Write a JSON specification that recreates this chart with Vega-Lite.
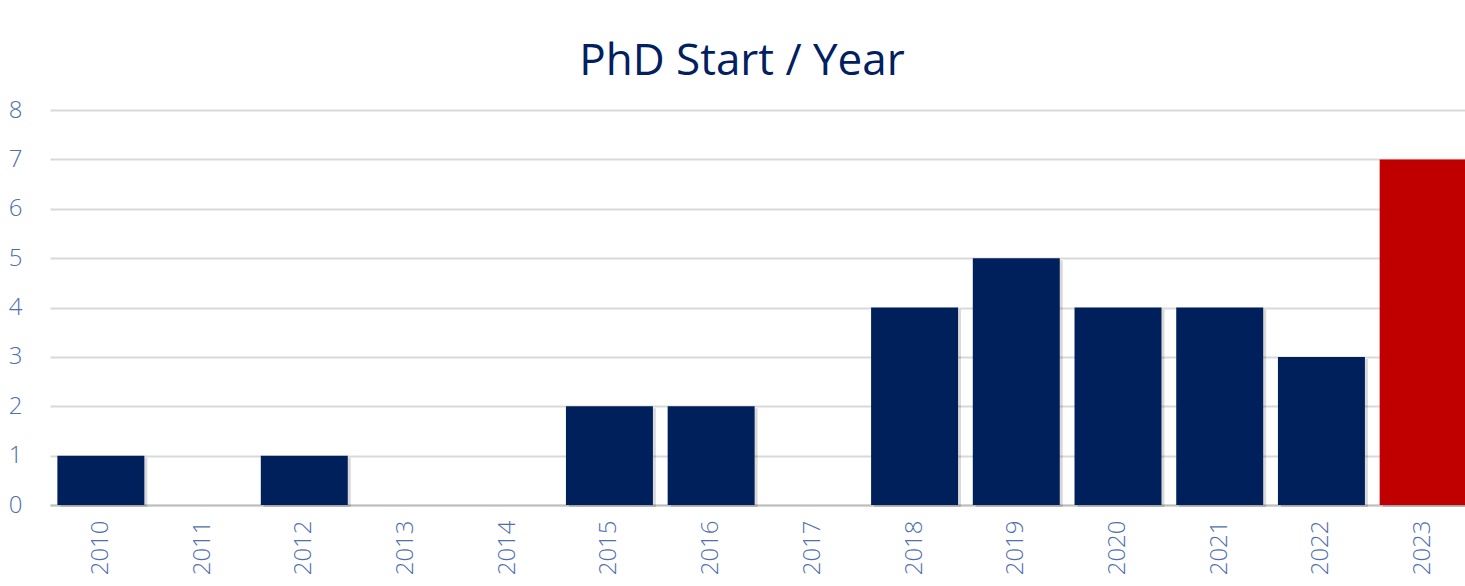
{
  "$schema": "https://vega.github.io/schema/vega-lite/v6.json",
  "autosize": "none",
  "padding": {"left": 50, "top": 110, "right": 0, "bottom": 81},
  "width": 1424,
  "height": 395,
  "background": "#ffffff",
  "title": {
    "text": "PhD Start / Year",
    "font": "Open Sans",
    "fontSize": 44,
    "fontWeight": "normal",
    "color": "#002060",
    "anchor": "middle",
    "frame": "group",
    "baseline": "alphabetic",
    "offset": -21,
    "dx": -20
  },
  "data": {
    "values": [
      {"year": "2010", "count": 1},
      {"year": "2011", "count": 0},
      {"year": "2012", "count": 1},
      {"year": "2013", "count": 0},
      {"year": "2014", "count": 0},
      {"year": "2015", "count": 2},
      {"year": "2016", "count": 2},
      {"year": "2017", "count": 0},
      {"year": "2018", "count": 4},
      {"year": "2019", "count": 5},
      {"year": "2020", "count": 4},
      {"year": "2021", "count": 4},
      {"year": "2022", "count": 3},
      {"year": "2023", "count": 7}
    ]
  },
  "encoding": {
    "x": {
      "field": "year",
      "type": "ordinal",
      "sort": null,
      "scale": {"paddingInner": 0.145, "paddingOuter": 0.0725},
      "axis": {
        "title": null,
        "labelAngle": -90,
        "labelAlign": "right",
        "labelBaseline": "middle",
        "labelFont": "Open Sans",
        "labelFontWeight": 300,
        "labelFontSize": 24,
        "labelColor": "#4f6fae",
        "labelPadding": 15,
        "ticks": false,
        "domain": true,
        "domainColor": "#bfbfbf",
        "domainWidth": 2
      }
    },
    "y": {
      "field": "count",
      "type": "quantitative",
      "scale": {"domain": [0, 8], "nice": false},
      "axis": {
        "title": null,
        "values": [0, 1, 2, 3, 4, 5, 6, 7, 8],
        "labelFont": "Open Sans",
        "labelFontWeight": 300,
        "labelFontSize": 24,
        "labelColor": "#4f6fae",
        "labelAlign": "center",
        "labelPadding": 35,
        "ticks": false,
        "domain": false,
        "grid": true,
        "gridColor": "#d9d9d9",
        "gridWidth": 2
      }
    }
  },
  "layer": [
    {
      "mark": {"type": "bar", "color": "#000000", "opacity": 0.15, "xOffset": 3, "yOffset": 2}
    },
    {
      "mark": {"type": "bar"},
      "encoding": {
        "color": {
          "condition": {"test": "datum.year === '2023'", "value": "#c00000"},
          "value": "#00205b"
        }
      }
    }
  ],
  "config": {"view": {"stroke": null}}
}
